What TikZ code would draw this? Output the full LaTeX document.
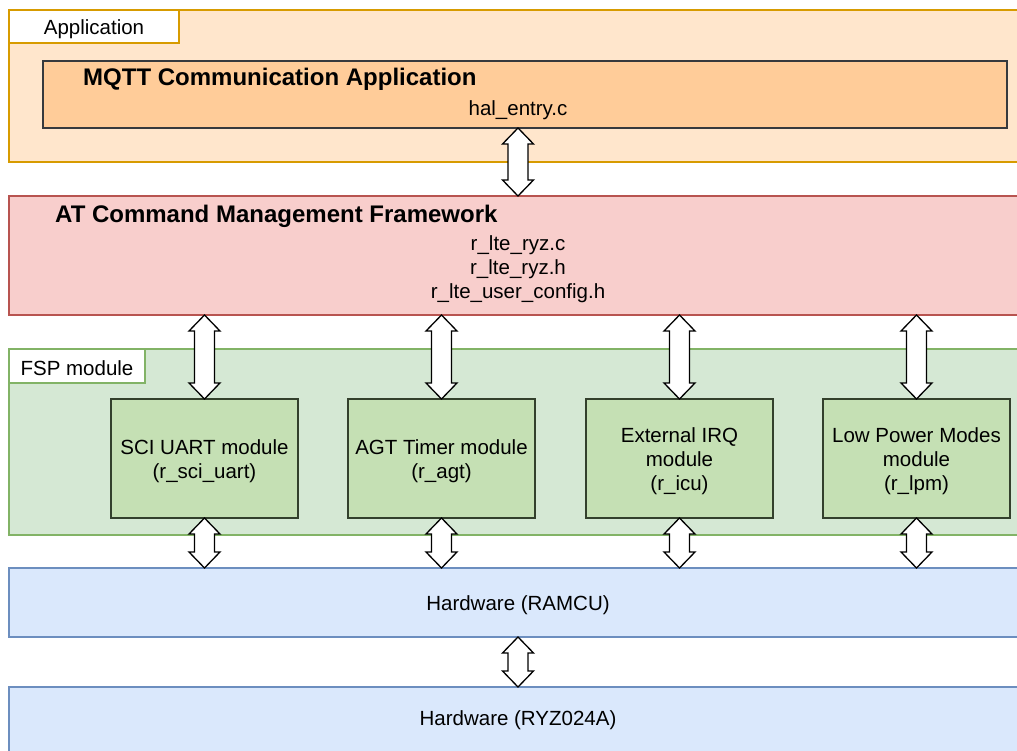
\documentclass[tikz,border=0pt]{standalone}
\usepackage{fontspec}
\setmainfont{Liberation Sans}
\usetikzlibrary{calc}

\definecolor{appfill}{HTML}{FFE6CC}
\definecolor{appline}{HTML}{D79B00}
\definecolor{mqttfill}{HTML}{FFCC99}
\definecolor{darkline}{HTML}{36393D}
\definecolor{atfill}{HTML}{F8CECC}
\definecolor{atline}{HTML}{B85450}
\definecolor{fspfill}{HTML}{D5E8D4}
\definecolor{fspline}{HTML}{82B366}
\definecolor{modfill}{HTML}{C5E0B4}
\definecolor{modline}{HTML}{33402C}
\definecolor{hwfill}{HTML}{DAE8FC}
\definecolor{hwline}{HTML}{6C8EBF}

% hollow double-headed block arrow between two points (top, bottom)
\newcommand{\blockarrow}[2]{%
  \path[draw=black, fill=white, line width=1.3pt, line join=miter]
    let \p1=#1, \p2=#2 in
    (\x1,\y1) -- (\x1+15.5pt,\y1-16pt) -- (\x1+10pt,\y1-16pt)
    -- (\x1+10pt,\y2+16pt) -- (\x1+15.5pt,\y2+16pt) -- (\x2,\y2)
    -- (\x1-15.5pt,\y2+16pt) -- (\x1-10pt,\y2+16pt)
    -- (\x1-10pt,\y1-16pt) -- (\x1-15.5pt,\y1-16pt) -- cycle;}

\tikzset{
  box/.style={rectangle, inner sep=0pt, outer sep=0pt, anchor=north west,
    line width=1.3pt},
  txt/.style={font=\fontsize{20.5}{24}\selectfont, inner sep=0pt, align=center,
    yshift=-2.5pt},
  ttl/.style={font=\fontsize{24}{28}\selectfont\bfseries, inner sep=0pt, anchor=west},
  modbox/.style={box, fill=modfill, draw=modline, minimum width=187pt,
    minimum height=119pt},
}

\begin{document}
\begin{tikzpicture}[x=1pt, y=-1pt]
\useasboundingbox (0,0) rectangle (1017,751);
\clip (0,0) rectangle (1017,751);

% Application layer
\node[box, fill=appfill, draw=appline, minimum width=1018pt, minimum height=152pt] (app) at (9,10) {};
\node[box, fill=white, draw=appline, minimum width=170pt, minimum height=33pt] (applbl) at (9,10) {};
\node[txt] (appname) at (applbl.center) {Application};
\node[box, fill=mqttfill, draw=darkline, minimum width=964pt, minimum height=67pt] (mqtt) at (43,61) {};
\node[ttl] (mqtttitle) at (83,79.5) {MQTT Communication Application};
\node[txt] (hal) at (518,108) {hal\_entry.c};

% AT command framework
\node[box, fill=atfill, draw=atline, minimum width=1018pt, minimum height=119pt] (at) at (9,196) {};
\node[ttl] (attitle) at (55,216) {AT Command Management Framework};
\node[txt] (files) at (518,267) {r\_lte\_ryz.c\\r\_lte\_ryz.h\\r\_lte\_user\_config.h};

% FSP modules
\node[box, fill=fspfill, draw=fspline, minimum width=1018pt, minimum height=186pt] (fsp) at (9,349) {};
\node[box, fill=white, draw=fspline, minimum width=136pt, minimum height=34pt] (fsplbl) at (9,349) {};
\node[txt] (fspname) at (fsplbl.center) {FSP module};
\node[modbox] (m1) at (111,399) {};
\node[modbox] (m2) at (348,399) {};
\node[modbox] (m3) at (586,399) {};
\node[modbox] (m4) at (823,399) {};
\node[txt] (m1t) at (m1.center) {SCI UART module\\(r\_sci\_uart)};
\node[txt] (m2t) at (m2.center) {AGT Timer module\\(r\_agt)};
\node[txt] (m3t) at (m3.center) {External IRQ\\module\\(r\_icu)};
\node[txt] (m4t) at (m4.center) {Low Power Modes\\module\\(r\_lpm)};

% Hardware
\node[box, fill=hwfill, draw=hwline, minimum width=1018pt, minimum height=69pt] (hw1) at (9,568) {};
\node[box, fill=hwfill, draw=hwline, minimum width=1018pt, minimum height=80pt] (hw2) at (9,687) {};
\node[txt] (hw1t) at (hw1.center) {Hardware (RAMCU)};
\node[txt] (hw2t) at ($(hw2.north)+(0,31)$) {Hardware (RYZ024A)};

% Interfaces between layers
\blockarrow{(hal |- mqtt.south)}{(hal |- at.north)}
\foreach \m in {m1,m2,m3,m4}{
  \blockarrow{(\m |- at.south)}{(\m.north)}
  \blockarrow{(\m.south)}{(\m |- hw1.north)}
}
\blockarrow{(hw1.south)}{(hw2.north)}
\end{tikzpicture}
\end{document}
